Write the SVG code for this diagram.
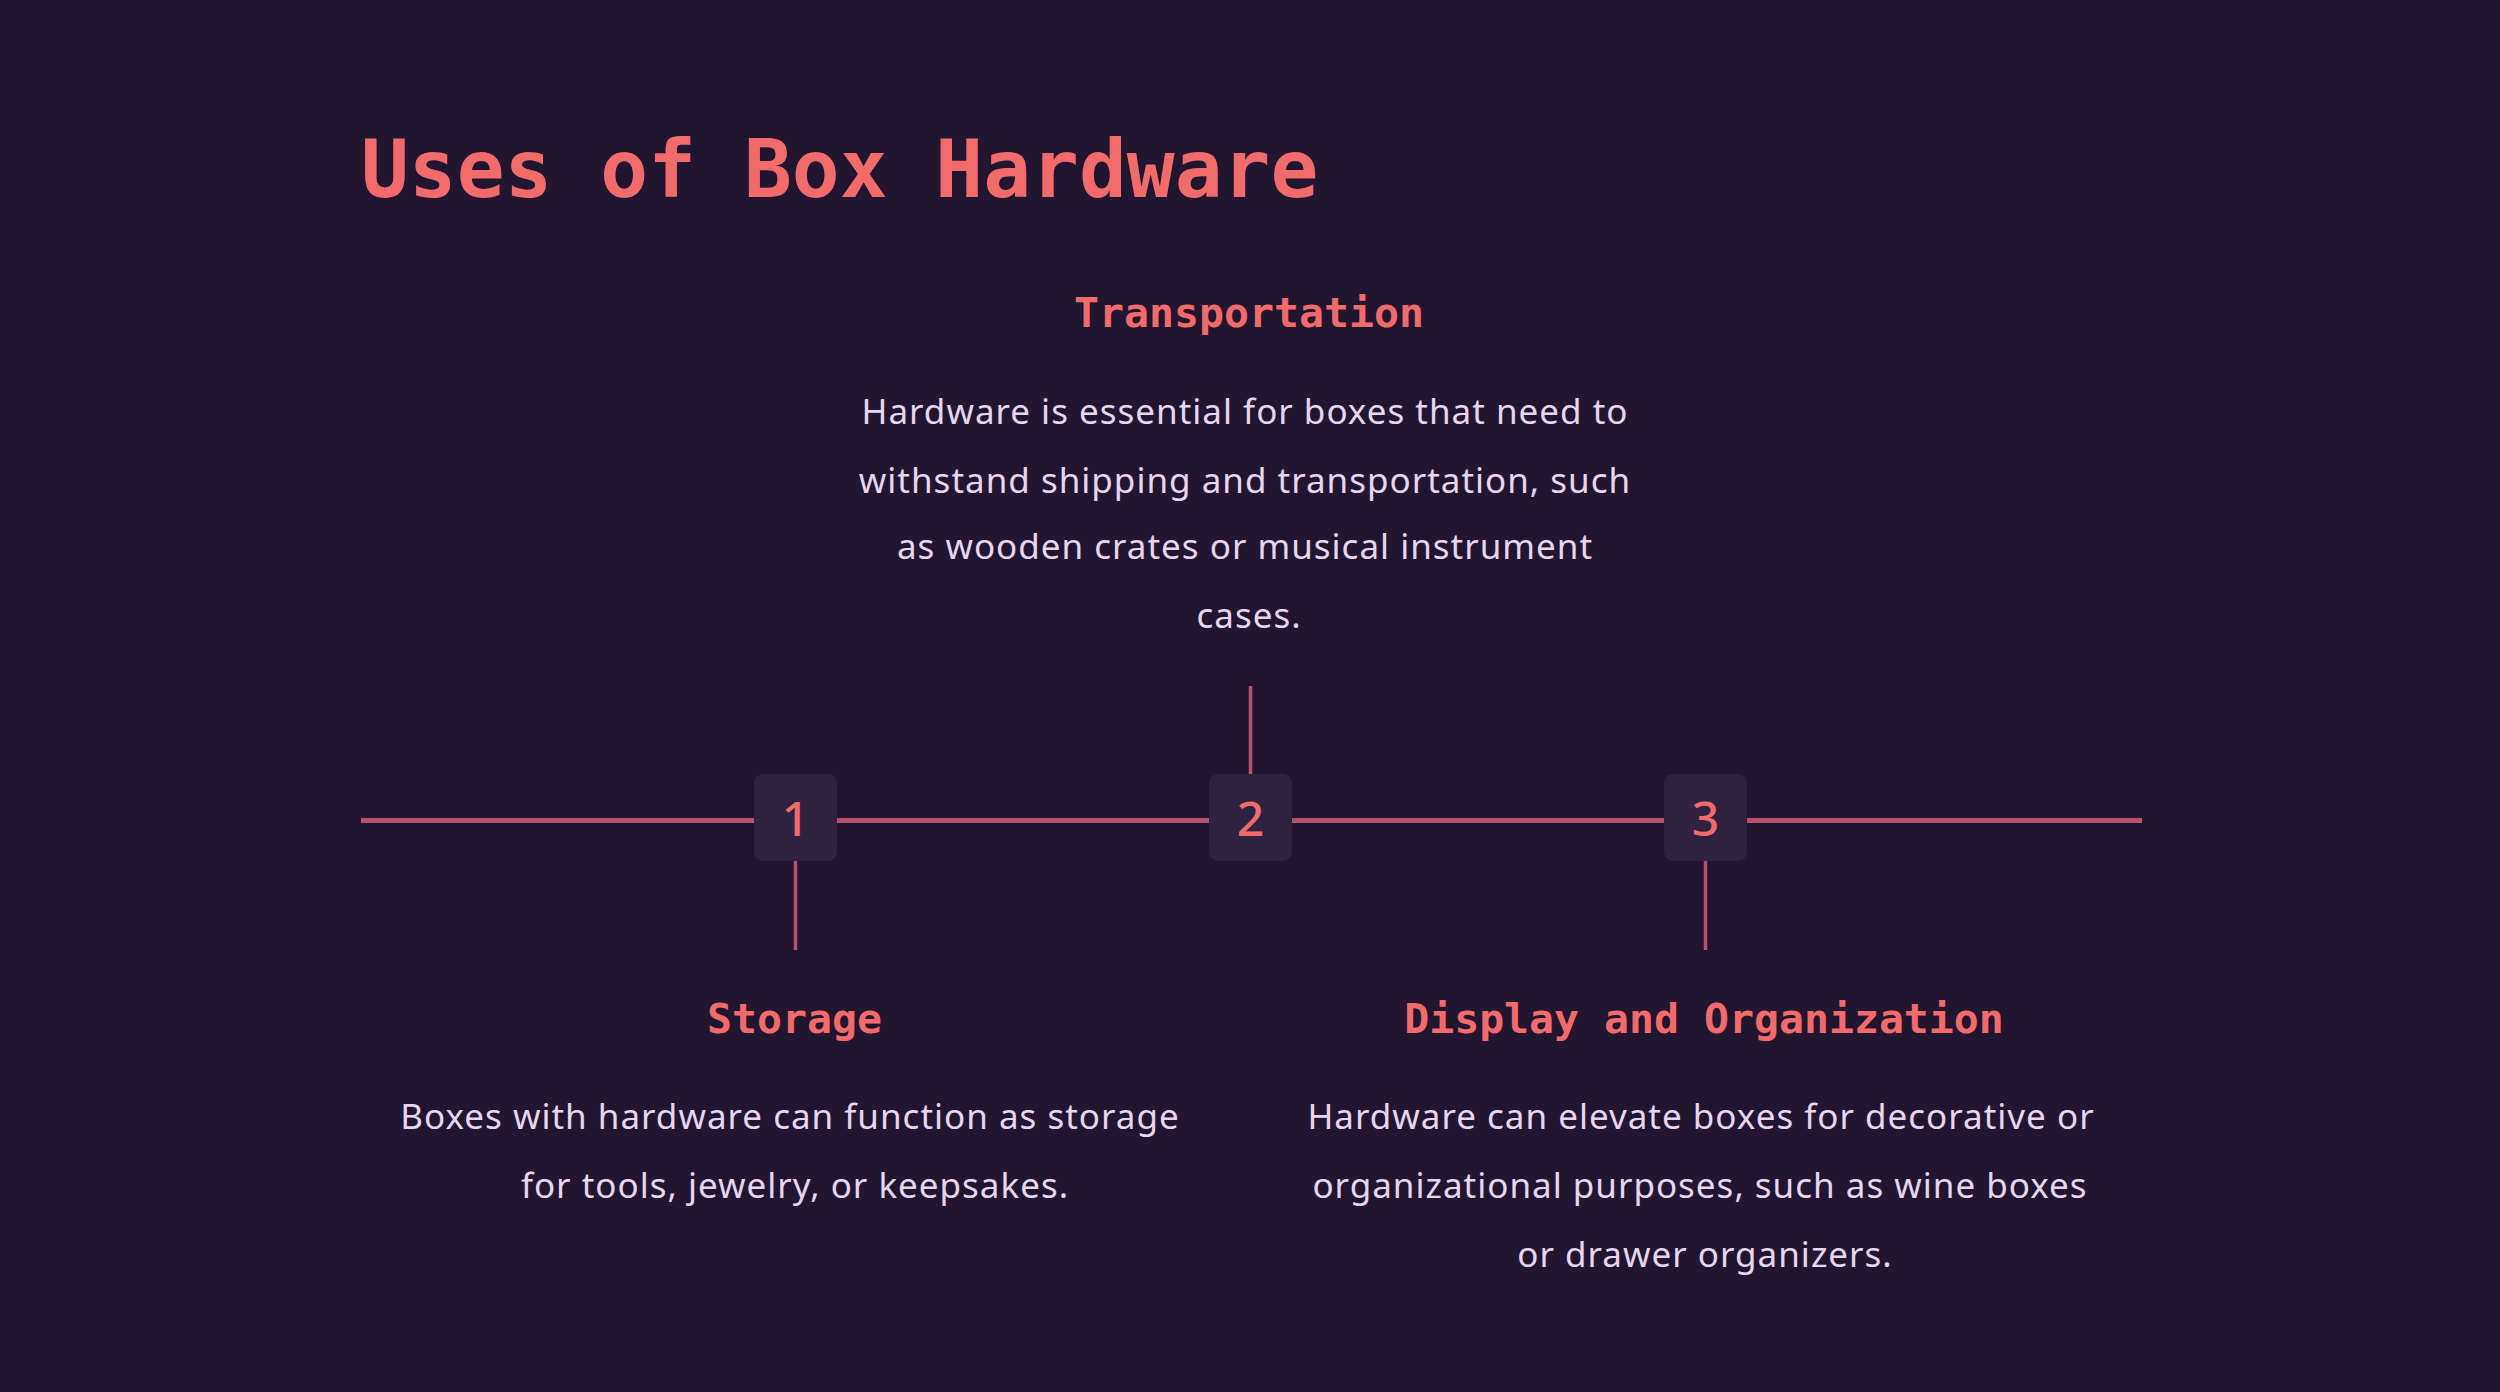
<svg xmlns="http://www.w3.org/2000/svg" width="2500" height="1392" viewBox="0 0 2500 1392">
<style>
.head{font-family:"DejaVu Sans Mono","Liberation Mono",monospace;font-weight:bold;fill:#f26b6b;}
.h2{font-size:41.5px;text-anchor:middle;}
.body{font-family:"Noto Sans","Open Sans",sans-serif;font-weight:400;font-size:35px;letter-spacing:1px;fill:#e6d6f0;text-anchor:middle;}
.num{font-family:"Noto Sans","Open Sans",sans-serif;font-weight:500;font-size:48px;fill:#f26b6b;text-anchor:middle;}
.box{fill:#2f2241;}
.line{stroke:#b5526c;fill:none;}
</style>
<rect x="0" y="0" width="2500" height="1392" fill="#221530"/>
<text class="head" x="361" y="197" font-size="79.5">Uses of Box Hardware</text>
<g id="connectors">
<line class="line" x1="361" y1="820.5" x2="2142" y2="820.5" stroke-width="5"/>
<line class="line" x1="1250.5" y1="686" x2="1250.5" y2="776" stroke-width="3.5"/>
<line class="line" x1="795.5" y1="859" x2="795.5" y2="950" stroke-width="3.5"/>
<line class="line" x1="1705.5" y1="859" x2="1705.5" y2="950" stroke-width="3.5"/>
</g>
<g id="node-1">
<rect class="box" x="754" y="774" width="83" height="87" rx="9"/>
<text class="num" x="795.5" y="836">1</text>
</g>
<g id="node-2">
<rect class="box" x="1209" y="774" width="83" height="87" rx="9"/>
<text class="num" x="1250.5" y="836">2</text>
</g>
<g id="node-3">
<rect class="box" x="1664" y="774" width="83" height="87" rx="9"/>
<text class="num" x="1705.5" y="836">3</text>
</g>
<g id="transportation">
<text class="head h2" x="1249" y="327">Transportation</text>
<text class="body" x="1245" y="424">Hardware is essential for boxes that need to</text>
<text class="body" x="1245" y="493">withstand shipping and transportation, such</text>
<text class="body" x="1245" y="559">as wooden crates or musical instrument</text>
<text class="body" x="1249" y="628">cases.</text>
</g>
<g id="storage">
<text class="head h2" x="794.5" y="1033">Storage</text>
<text class="body" x="790" y="1129">Boxes with hardware can function as storage</text>
<text class="body" x="795" y="1198">for tools, jewelry, or keepsakes.</text>
</g>
<g id="display">
<text class="head h2" x="1704" y="1033">Display and Organization</text>
<text class="body" x="1701" y="1129">Hardware can elevate boxes for decorative or</text>
<text class="body" x="1700" y="1198">organizational purposes, such as wine boxes</text>
<text class="body" x="1705" y="1267">or drawer organizers.</text>
</g>
</svg>
